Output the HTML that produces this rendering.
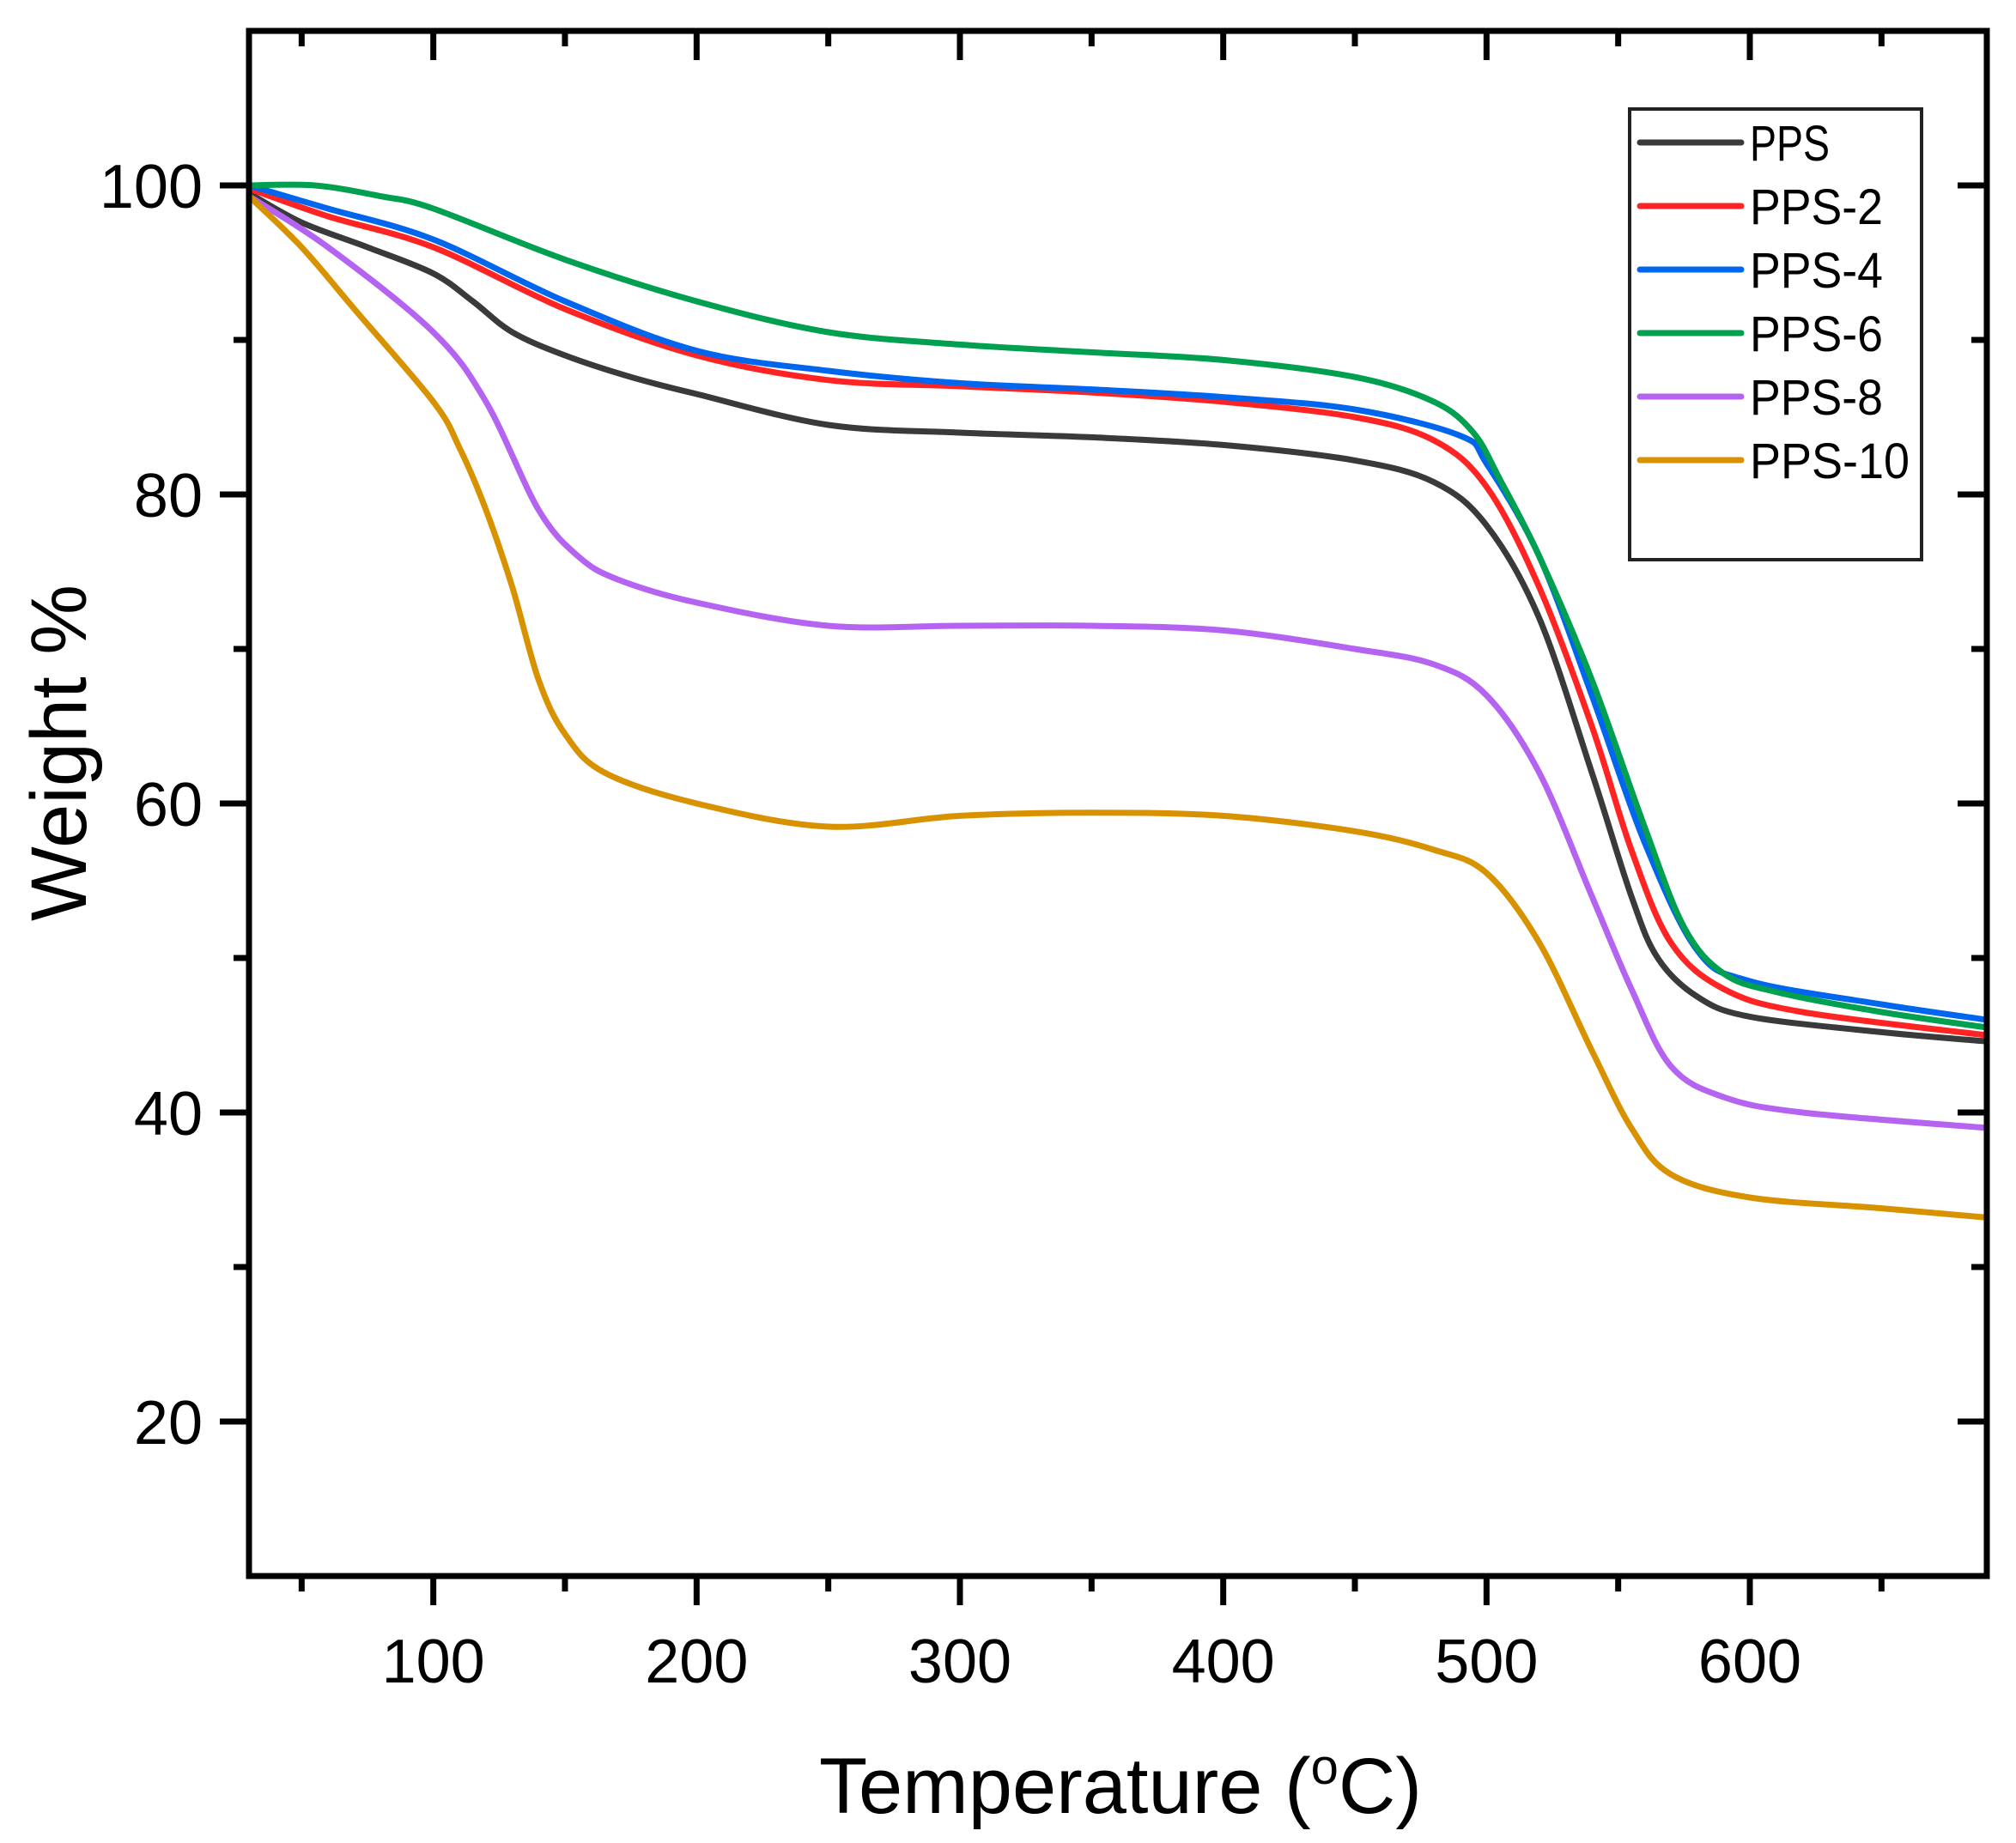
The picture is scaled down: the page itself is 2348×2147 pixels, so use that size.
<!DOCTYPE html>
<html><head><meta charset="utf-8"><style>
html,body{margin:0;padding:0;background:#fff;}
svg{display:block;}
text{font-family:"Liberation Sans",Arial,sans-serif;fill:#000;}
</style></head><body>
<svg id="s" width="2348" height="2147" viewBox="0 0 2348 2147" xmlns="http://www.w3.org/2000/svg">
<g id="curves" fill="none" stroke-width="7" stroke-linejoin="round" stroke-linecap="round"></g>
<g id="axes" stroke="#000" stroke-width="7" fill="none"></g>
<g id="labels" font-size="72"></g>
<text x="1305" y="2112" font-size="92" text-anchor="middle">Temperature (<tspan font-size="58" dy="-34">o</tspan><tspan dy="34">C)</tspan></text>
<text transform="translate(100,877) rotate(-90)" font-size="92" text-anchor="middle">Weight %</text>
<g id="legend"></g>
</svg>
<script>
var X0=290,X1=2314,T0=30,T1=690,Y0=36,Y1=1836,W0=110,W1=10;
function px(t){return X0+(t-T0)*(X1-X0)/(T1-T0);}
function py(w){return Y0+(W0-w)*(Y1-Y0)/(W0-W1);}
var NS="http://www.w3.org/2000/svg";
function el(p,tag,a,txt){var e=document.createElementNS(NS,tag);for(var k in a)e.setAttribute(k,a[k]);if(txt!=null)e.textContent=txt;p.appendChild(e);return e;}
var data=[
["#3a3a3a","PPS",[[30,99.5],[50,97.6],[75,96],[100,94.3],[115,92.5],[130,90.5],[150,89],[175,87.6],[200,86.5],[250,84.5],[300,84],[350,83.7],[400,83.2],[450,82.2],[480,80.8],[500,78],[520,72],[540,62],[555,54],[565,50],[580,47.5],[600,46.2],[650,45.2],[690,44.6]]],
["#ff2424","PPS-2",[[30,99.8],[60,98],[100,96],[150,92],[200,89],[250,87.4],[300,87],[350,86.6],[400,86],[450,85],[480,83.5],[500,80.5],[520,74],[540,65],[555,57],[570,51],[590,48],[620,46.5],[690,45]]],
["#0066ee","PPS-4",[[30,100],[60,98.5],[100,96.5],[150,92.5],[200,89.3],[250,88],[300,87.2],[350,86.8],[400,86.3],[450,85.5],[490,83.8],[500,82],[520,76],[540,67],[560,57.5],[580,50.5],[600,48.5],[650,47],[690,46]]],
["#00a050","PPS-6",[[30,100],[55,100],[80,99.3],[100,98.5],[150,95.2],[200,92.5],[250,90.5],[300,89.7],[350,89.2],[400,88.7],[450,87.6],[480,86],[495,84],[505,81],[520,76],[540,68],[560,58.5],[575,52],[590,49],[610,47.8],[650,46.5],[690,45.5]]],
["#b464f0","PPS-8",[[30,99.3],[60,96],[100,90.5],[120,86],[140,79],[155,76],[170,74.5],[200,73],[250,71.5],[300,71.5],[350,71.5],[400,71.2],[450,70],[480,69],[500,67],[520,62],[540,54],[555,48],[570,43],[590,41],[620,40],[690,39]]],
["#d89200","PPS-10",[[30,99.3],[50,96],[70,92],[100,86],[110,83],[120,79],[130,74],[140,68],[150,64.5],[165,62],[200,60],[250,58.5],[300,59.2],[350,59.4],[400,59.2],[450,58.2],[480,57],[500,55.5],[520,51],[540,44],[555,39],[570,36],[600,34.5],[650,33.8],[690,33.2]]]
];
var cg=document.getElementById("curves");
data.forEach(function(d){
 var p=d[2].map(function(q){return [px(q[0]),py(q[1])];});
 var s="M"+p[0][0]+","+p[0][1];
 for(var i=0;i<p.length-1;i++){
  var a=p[i>0?i-1:0],b=p[i],c=p[i+1],e=p[i+2<p.length?i+2:i+1];
  var c1x=b[0]+(c[0]-a[0])/6,c1y=b[1]+(c[1]-a[1])/6,c2x=c[0]-(e[0]-b[0])/6,c2y=c[1]-(e[1]-b[1])/6;
  s+=" C"+c1x.toFixed(1)+","+c1y.toFixed(1)+" "+c2x.toFixed(1)+","+c2y.toFixed(1)+" "+c[0].toFixed(1)+","+c[1].toFixed(1);
 }
 el(cg,"path",{d:s,stroke:d[0]});
});
var ag=document.getElementById("axes");
el(ag,"rect",{x:X0,y:Y0,width:X1-X0,height:Y1-Y0});
var lg=document.getElementById("labels");
for(var t=50;t<=650;t+=50){
 var x=px(t),maj=t%100==0;
 el(ag,"line",{x1:x,y1:Y1,x2:x,y2:Y1+(maj?34:18)});
 el(ag,"line",{x1:x,y1:Y0,x2:x,y2:Y0+(maj?34:18)});
 if(maj)el(lg,"text",{x:x,y:1960,"text-anchor":"middle"},t);
}
for(var w=20;w<=100;w+=10){
 var y=py(w),maj=w%20==0;
 el(ag,"line",{x1:X0,y1:y,x2:X0-(maj?34:18),y2:y});
 el(ag,"line",{x1:X1,y1:y,x2:X1-(maj?34:18),y2:y});
 if(maj)el(lg,"text",{x:236,y:y+26,"text-anchor":"end"},w);
}
var L=document.getElementById("legend");
el(L,"rect",{x:1898,y:127,width:340,height:525,fill:"#fff",stroke:"#222","stroke-width":4});
data.forEach(function(d,i){
 var y=166+i*74;
 el(L,"line",{x1:1910,y1:y,x2:2028,y2:y,stroke:d[0],"stroke-width":7,"stroke-linecap":"round"});
 el(L,"text",{x:2038,y:y+21,"font-size":58,textLength:(d[1].length*31)+"" ,lengthAdjust:"spacingAndGlyphs"},d[1]);
});
</script>
</body></html>
